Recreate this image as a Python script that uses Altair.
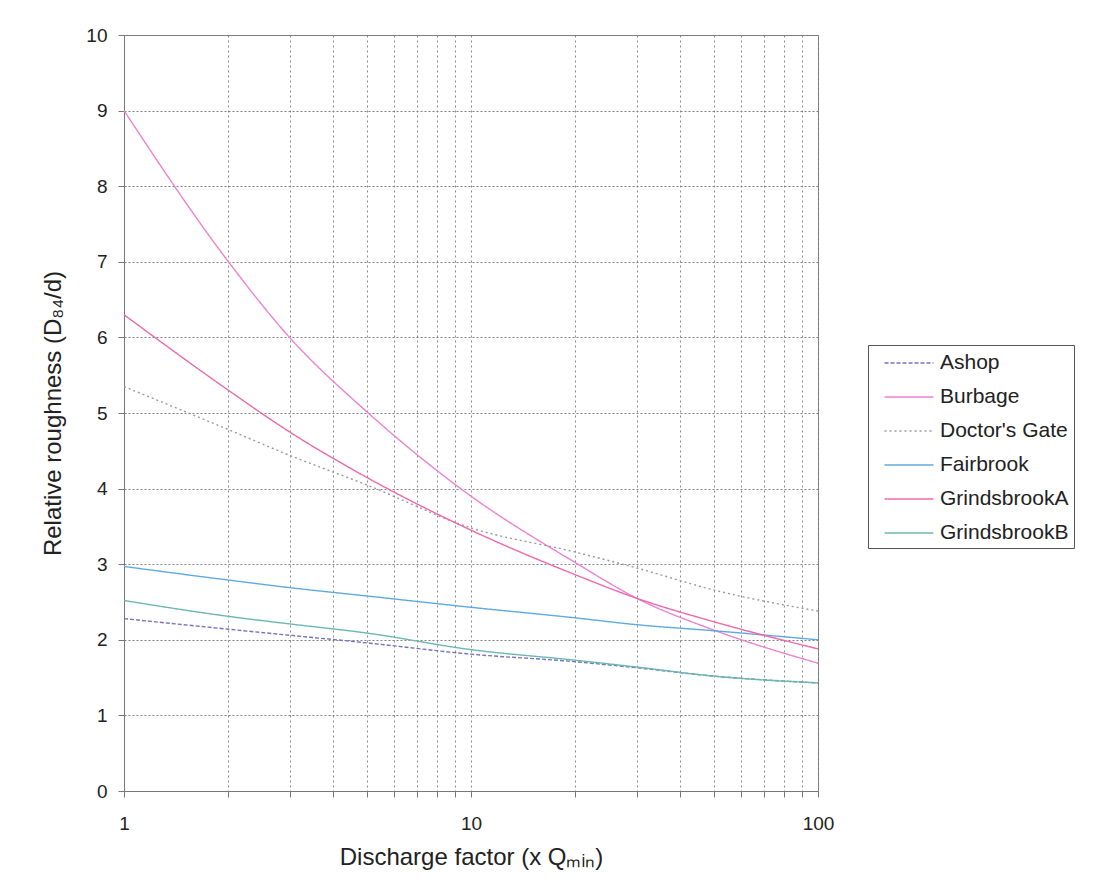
import altair as alt
import pandas as pd

# Discharge factor sample points (x Q_min)
x_vals = [1, 2, 3, 5, 10, 20, 30, 50, 100]

series_names = ["Ashop", "Burbage", "Doctor's Gate", "Fairbrook", "GrindsbrookA", "GrindsbrookB"]

ashop = [2.28, 2.14, 2.06, 1.96, 1.81, 1.71, 1.63, 1.52, 1.43]
burbage = [9.0, 7.0, 6.0, 5.02, 3.9, 3.02, 2.55, 2.13, 1.69]
doctors_gate = [5.35, 4.78, 4.44, 4.05, 3.48, 3.16, 2.95, 2.66, 2.38]
fairbrook = [2.97, 2.79, 2.69, 2.58, 2.43, 2.29, 2.20, 2.12, 2.00]
grindsbrook_a = [6.3, 5.3, 4.75, 4.15, 3.45, 2.86, 2.55, 2.24, 1.88]
grindsbrook_b = [2.52, 2.31, 2.21, 2.09, 1.87, 1.73, 1.64, 1.52, 1.43]

all_series = [ashop, burbage, doctors_gate, fairbrook, grindsbrook_a, grindsbrook_b]

colors = ["#7474bc", "#ec82d2", "#9a9a9a", "#5eaae0", "#ee68ac", "#6cb8b0"]
dashes = [[4, 2], [1, 0], [2, 3], [1, 0], [1, 0], [1, 0]]

x_tick_values = [1, 2, 3, 4, 5, 6, 7, 8, 9, 10, 20, 30, 40, 50, 60, 70, 80, 90, 100]
y_tick_values = list(range(0, 11))

rows = []
for name, vals in zip(series_names, all_series):
    for xv, yv in zip(x_vals, vals):
        rows.append({"site": name, "q": xv, "r": yv})
df = pd.DataFrame(rows)

font = "Liberation Sans"

chart = alt.Chart(df).mark_line(strokeWidth=1.4, interpolate="monotone").encode(
    x=alt.X(
        "q:Q",
        scale=alt.Scale(type="log", domain=[1, 100], nice=False),
        axis=alt.Axis(
            title="Discharge factor (x Qₘᵢₙ)",
            values=x_tick_values,
            labelExpr="(datum.value == 1 || datum.value == 10 || datum.value == 100) ? datum.label : ''",
            format="d",
            grid=True,
            gridDash=[2, 3],
            gridColor="#8a8a8a",
            gridWidth=1,
            tickSize=6,
            tickColor="#777777",
            domainColor="#777777",
            labelFontSize=19,
            labelPadding=17,
            labelColor="#222222",
            titleFontSize=24,
            titleFontWeight="normal",
            titleColor="#222222",
            titlePadding=12,
            labelFlush=False,
        ),
    ),
    y=alt.Y(
        "r:Q",
        scale=alt.Scale(domain=[0, 10], nice=False),
        axis=alt.Axis(
            title="Relative roughness (D₈₄/d)",
            values=y_tick_values,
            format="d",
            grid=True,
            gridDash=[2, 2],
            gridColor="#808080",
            gridWidth=1,
            tickSize=6,
            tickColor="#777777",
            domainColor="#777777",
            labelFontSize=19,
            labelPadding=11,
            labelColor="#222222",
            titleFontSize=24,
            titleFontWeight="normal",
            titleColor="#222222",
            titlePadding=20,
        ),
    ),
    color=alt.Color(
        "site:N",
        scale=alt.Scale(domain=series_names, range=colors),
        legend=alt.Legend(
            title=None,
            orient="none",
            legendX=744,
            legendY=310,
            symbolType="M-2,0H2",
            symbolSize=600,
            symbolStrokeWidth=1.5,
            symbolOffset=23,
            labelFontSize=21,
            labelColor="#222222",
            labelFont=font,
            rowPadding=11,
            labelOffset=18,
            strokeColor="#555555",
            fillColor="#ffffff",
            padding=5,
            cornerRadius=0,
        ),
    ),
    strokeDash=alt.StrokeDash(
        "site:N",
        scale=alt.Scale(domain=series_names, range=dashes),
        legend=None,
    ),
).properties(
    width=694,
    height=756,
    autosize=alt.AutoSizeParams(type="none"),
    padding={"left": 116, "top": 27, "right": 270, "bottom": 90},
    background="#ffffff",
).configure_view(
    stroke="#777777",
    strokeWidth=1,
).configure_axis(
    labelFont=font,
    titleFont=font,
).configure_legend(
    labelFont=font,
)

chart.save("out.html", embed_options={"renderer": "svg", "actions": False})
